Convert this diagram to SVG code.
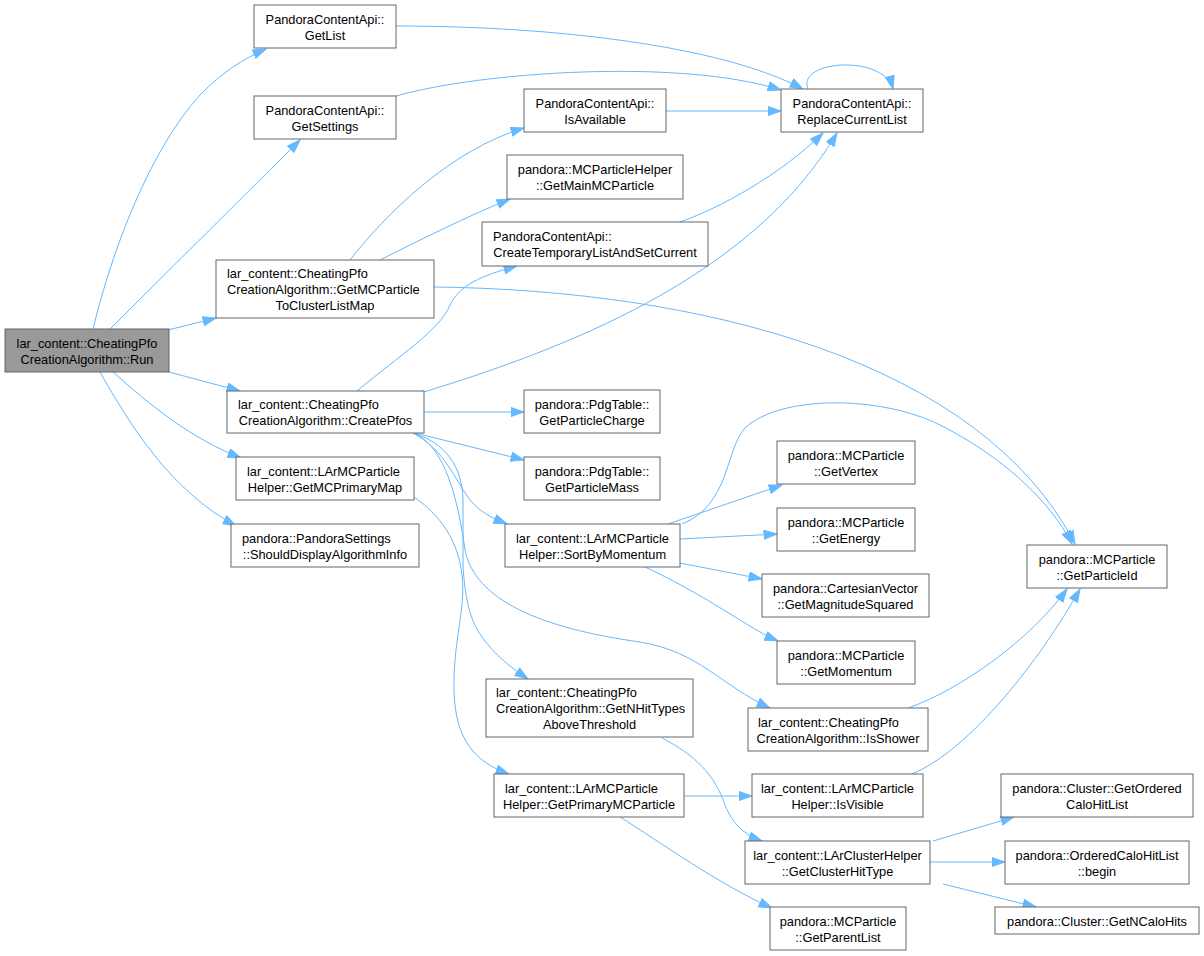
<svg xmlns="http://www.w3.org/2000/svg" width="1204" height="956" viewBox="0 0 1204 956">
<style>
.node rect{fill:#ffffff;stroke:#666666;stroke-width:1}
.root rect{fill:#999999;stroke:#666666;stroke-width:1}
text{font-family:"Liberation Sans",Arial,Helvetica,sans-serif;font-size:12.8px;fill:#000000}
.m{text-anchor:middle}
.s{text-anchor:start}
.edges path{fill:none;stroke:#63b8ff;stroke-width:1;marker-end:url(#ah)}
</style>
<defs>
<marker id="ah" markerUnits="userSpaceOnUse" markerWidth="15" markerHeight="11" refX="13.5" refY="5" orient="auto">
<path d="M0.5,0.5 L13.5,5 L0.5,9.5 z" fill="#63b8ff" stroke="#63b8ff" stroke-width="1"/>
</marker>
</defs>
<rect x="0" y="0" width="1204" height="956" fill="#ffffff"/>
<g class="edges">
<path id="e_run_getlist" d="M93,329 C112,250 150,150 200,95 C222,72 245,58 266,49"/>
<path id="e_run_getsettings" d="M110,329 L300,140"/>
<path id="e_run_mcp2cl" d="M168,330 L216,318"/>
<path id="e_run_createpfos" d="M169,372 L240,391"/>
<path id="e_run_primarymap" d="M113,372 C150,405 190,438 241,458"/>
<path id="e_run_shoulddisplay" d="M100,372 C130,425 170,490 236,526"/>
<path id="e_getlist_replace" d="M396,26 C550,26 720,45 803,89"/>
<path id="e_getsettings_replace" d="M396,96 C480,72 680,58 781,90"/>
<path id="e_replace_self" d="M808,89 C796,60 884,54 893,89"/>
<path id="e_isavailable_replace" d="M666,111 L781,111"/>
<path id="e_createtemp_replace" d="M680,222 C720,208 780,175 823,133"/>
<path id="e_createpfos_replace" d="M424,392 C560,350 750,280 837,133"/>
<path id="e_createpfos_createtemp" d="M357,391 C400,355 440,330 450,305 C460,285 480,276 517,266"/>
<path id="e_mcp2cl_isavailable" d="M350,260 C385,215 450,150 524,128"/>
<path id="e_mcp2cl_mainmcp" d="M380,260 C420,240 470,215 510,199"/>
<path id="e_mcp2cl_particleid" d="M434,287 C700,290 980,360 1075,544"/>
<path id="e_sort_particleid" d="M682,524 C730,505 725,450 745,428 C780,395 880,395 940,425 C1000,455 1050,500 1072,544"/>
<path id="e_sort_vertex" d="M668,524 L782,485"/>
<path id="e_sort_energy" d="M680,539 L777,534"/>
<path id="e_sort_magsq" d="M680,563 L762,579"/>
<path id="e_sort_momentum" d="M645,567 C690,588 720,608 745,623 C758,631 768,637 778,641"/>
<path id="e_createpfos_charge" d="M424,412 L524,412"/>
<path id="e_createpfos_mass" d="M415,433 L524,460"/>
<path id="e_createpfos_sort" d="M413,433 C445,450 455,480 470,500 C480,512 492,518 507,524"/>
<path id="e_createpfos_isshower" d="M413,433 C445,445 458,500 465,550 C475,600 540,628 640,642 C700,652 720,685 770,708"/>
<path id="e_createpfos_nhit" d="M413,433 C445,443 462,465 463,500 L463,565 C465,600 470,620 482,637 C495,655 510,667 528,679"/>
<path id="e_primarymap_primary" d="M414,497 C440,515 458,540 462,575 C466,610 453,640 454,690 C455,740 475,762 509,774"/>
<path id="e_nhit_clusterhittype" d="M662,738 C695,755 715,775 725,805 C733,825 745,835 762,841"/>
<path id="e_primary_isvisible" d="M684,796 L752,796"/>
<path id="e_primary_parentlist" d="M620,817 C660,842 720,885 772,908"/>
<path id="e_isshower_particleid" d="M908,708 C960,690 1030,640 1067,589"/>
<path id="e_isvisible_particleid" d="M912,774 C970,750 1040,660 1080,589"/>
<path id="e_cht_orderedcalo" d="M933,841 L1014,817"/>
<path id="e_cht_begin" d="M930,862 L1005,862"/>
<path id="e_cht_ncalohits" d="M943,884 L1036,907"/>
</g>
<g id="n_run" class="root"><rect x="5" y="329" width="164" height="43"/><text class="m" x="87" y="347.5">lar_content::CheatingPfo</text><text class="m" x="87" y="363.5">CreationAlgorithm::Run</text></g>
<g id="n_getlist" class="node"><rect x="254" y="5" width="142" height="43"/><text class="m" x="325" y="23.5">PandoraContentApi::</text><text class="m" x="325" y="39.5">GetList</text></g>
<g id="n_getsettings" class="node"><rect x="254" y="96" width="142" height="43"/><text class="m" x="325" y="114.5">PandoraContentApi::</text><text class="m" x="325" y="130.5">GetSettings</text></g>
<g id="n_mcp2cl" class="node"><rect x="216" y="260" width="218" height="58"/><text class="s" x="227" y="278">lar_content::CheatingPfo</text><text class="s" x="227" y="294">CreationAlgorithm::GetMCParticle</text><text class="m" x="325" y="310">ToClusterListMap</text></g>
<g id="n_createpfos" class="node"><rect x="227" y="391" width="197" height="42"/><text class="s" x="238" y="409">lar_content::CheatingPfo</text><text class="m" x="325.5" y="425">CreationAlgorithm::CreatePfos</text></g>
<g id="n_primarymap" class="node"><rect x="236" y="457" width="178" height="43"/><text class="s" x="247" y="475.5">lar_content::LArMCParticle</text><text class="m" x="325" y="491.5">Helper::GetMCPrimaryMap</text></g>
<g id="n_shoulddisplay" class="node"><rect x="231" y="524" width="188" height="43"/><text class="s" x="242" y="542.5">pandora::PandoraSettings</text><text class="m" x="325" y="558.5">::ShouldDisplayAlgorithmInfo</text></g>
<g id="n_replace" class="node"><rect x="781" y="89" width="142" height="43"/><text class="m" x="852" y="107.5">PandoraContentApi::</text><text class="m" x="852" y="123.5">ReplaceCurrentList</text></g>
<g id="n_isavailable" class="node"><rect x="524" y="89" width="142" height="43"/><text class="m" x="595" y="107.5">PandoraContentApi::</text><text class="m" x="595" y="123.5">IsAvailable</text></g>
<g id="n_mainmcp" class="node"><rect x="507" y="155" width="176" height="44"/><text class="m" x="595" y="174">pandora::MCParticleHelper</text><text class="m" x="595" y="190">::GetMainMCParticle</text></g>
<g id="n_createtemp" class="node"><rect x="482" y="222" width="226" height="44"/><text class="s" x="493" y="241">PandoraContentApi::</text><text class="m" x="595" y="257">CreateTemporaryListAndSetCurrent</text></g>
<g id="n_charge" class="node"><rect x="524" y="390" width="136" height="43"/><text class="m" x="592" y="408.5">pandora::PdgTable::</text><text class="m" x="592" y="424.5">GetParticleCharge</text></g>
<g id="n_mass" class="node"><rect x="524" y="457" width="136" height="43"/><text class="m" x="592" y="475.5">pandora::PdgTable::</text><text class="m" x="592" y="491.5">GetParticleMass</text></g>
<g id="n_sort" class="node"><rect x="505" y="524" width="175" height="43"/><text class="m" x="592.5" y="542.5">lar_content::LArMCParticle</text><text class="m" x="592.5" y="558.5">Helper::SortByMomentum</text></g>
<g id="n_vertex" class="node"><rect x="777" y="441" width="138" height="43"/><text class="m" x="846" y="459.5">pandora::MCParticle</text><text class="m" x="846" y="475.5">::GetVertex</text></g>
<g id="n_energy" class="node"><rect x="777" y="508" width="138" height="43"/><text class="m" x="846" y="526.5">pandora::MCParticle</text><text class="m" x="846" y="542.5">::GetEnergy</text></g>
<g id="n_magsq" class="node"><rect x="762" y="574" width="167" height="43"/><text class="m" x="845.5" y="592.5">pandora::CartesianVector</text><text class="m" x="845.5" y="608.5">::GetMagnitudeSquared</text></g>
<g id="n_momentum" class="node"><rect x="777" y="641" width="138" height="43"/><text class="m" x="846" y="659.5">pandora::MCParticle</text><text class="m" x="846" y="675.5">::GetMomentum</text></g>
<g id="n_nhit" class="node"><rect x="486" y="679" width="207" height="58"/><text class="s" x="496" y="697">lar_content::CheatingPfo</text><text class="s" x="496" y="713">CreationAlgorithm::GetNHitTypes</text><text class="m" x="589.5" y="729">AboveThreshold</text></g>
<g id="n_isshower" class="node"><rect x="748" y="708" width="180" height="43"/><text class="s" x="758" y="726.5">lar_content::CheatingPfo</text><text class="m" x="838" y="742.5">CreationAlgorithm::IsShower</text></g>
<g id="n_primary" class="node"><rect x="494" y="774" width="190" height="43"/><text class="s" x="505" y="792.5">lar_content::LArMCParticle</text><text class="m" x="589" y="808.5">Helper::GetPrimaryMCParticle</text></g>
<g id="n_isvisible" class="node"><rect x="752" y="774" width="171" height="43"/><text class="m" x="837.5" y="792.5">lar_content::LArMCParticle</text><text class="m" x="837.5" y="808.5">Helper::IsVisible</text></g>
<g id="n_cht" class="node"><rect x="745" y="841" width="185" height="43"/><text class="m" x="837.5" y="859.5">lar_content::LArClusterHelper</text><text class="m" x="837.5" y="875.5">::GetClusterHitType</text></g>
<g id="n_parentlist" class="node"><rect x="770" y="907" width="136" height="43"/><text class="m" x="838" y="925.5">pandora::MCParticle</text><text class="m" x="838" y="941.5">::GetParentList</text></g>
<g id="n_particleid" class="node"><rect x="1027" y="545" width="140" height="43"/><text class="m" x="1097" y="563.5">pandora::MCParticle</text><text class="m" x="1097" y="579.5">::GetParticleId</text></g>
<g id="n_orderedcalo" class="node"><rect x="1001" y="774" width="192" height="43"/><text class="m" x="1097" y="792.5">pandora::Cluster::GetOrdered</text><text class="m" x="1097" y="808.5">CaloHitList</text></g>
<g id="n_begin" class="node"><rect x="1005" y="841" width="184" height="43"/><text class="m" x="1097" y="859.5">pandora::OrderedCaloHitList</text><text class="m" x="1097" y="875.5">::begin</text></g>
<g id="n_ncalohits" class="node"><rect x="995" y="907" width="204" height="27"/><text class="m" x="1097" y="925.5">pandora::Cluster::GetNCaloHits</text></g>
</svg>
